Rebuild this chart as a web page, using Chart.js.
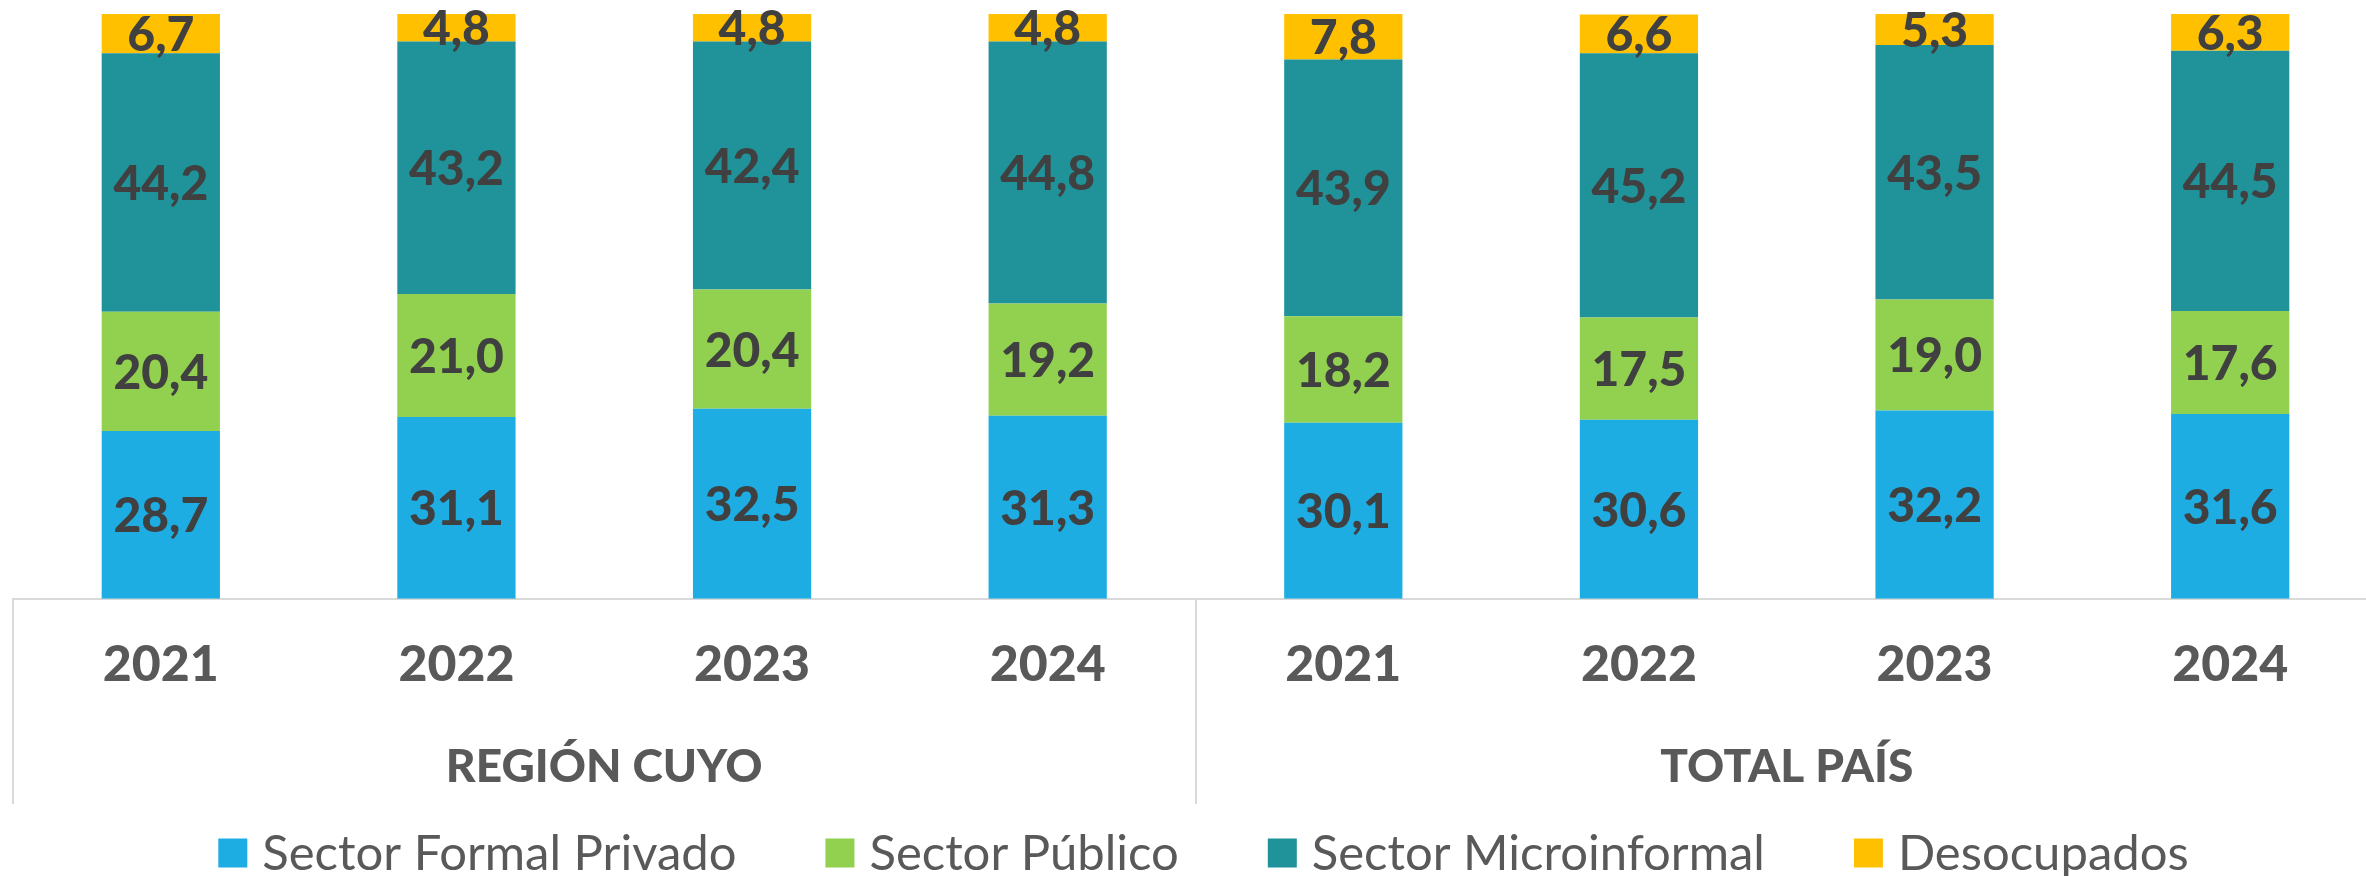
<!DOCTYPE html>
<html>
<head>
<meta charset="utf-8">
<script src="https://cdn.jsdelivr.net/npm/chart.js@4.4.1/dist/chart.umd.min.js"></script>
<style>
  html, body { margin: 0; padding: 0; background: #fff; overflow: hidden; }
  #wrap { width: 2378px; height: 876px; }
</style>
</head>
<body>
<div id="wrap"><canvas id="chart" width="2378" height="876"></canvas></div>
<script>
// --- datos ---
const years  = ['2021', '2022', '2023', '2024', '2021', '2022', '2023', '2024'];
const groups = ['REGIÓN CUYO', 'TOTAL PAÍS'];

const formalPrivado = [28.7, 31.1, 32.5, 31.3, 30.1, 30.6, 32.2, 31.6];
const sectorPublico = [20.4, 21.0, 20.4, 19.2, 18.2, 17.5, 19.0, 17.6];
const microinformal = [44.2, 43.2, 42.4, 44.8, 43.9, 45.2, 43.5, 44.5];
const desocupados   = [6.7, 4.8, 4.8, 4.8, 7.8, 6.6, 5.3, 6.3];

const seriesNames  = ['Sector Formal Privado', 'Sector Público', 'Sector Microinformal', 'Desocupados'];
const seriesColors = ['#1EADE3', '#92D050', '#20929A', '#FFC000'];

const FONT = 'Lato, "Noto Sans", sans-serif';

// etiquetas de valor dentro de cada segmento
const valueLabels = {
  id: 'valueLabels',
  afterDatasetsDraw(chart) {
    const ctx = chart.ctx;
    ctx.save();
    ctx.font = '900 48px ' + FONT;
    ctx.fillStyle = '#404040';
    ctx.textAlign = 'center';
    ctx.textBaseline = 'middle';
    chart.data.datasets.forEach((ds, i) => {
      chart.getDatasetMeta(i).data.forEach((bar, j) => {
        const y = (bar.y + bar.base) / 2;
        ctx.fillText(ds.data[j].toFixed(1).replace('.', ','), bar.x, y + 2);
      });
    });
    ctx.restore();
  }
};

// líneas verticales que separan los grupos
const groupLines = {
  id: 'groupLines',
  afterDraw(chart) {
    const x = chart.scales.x, x2 = chart.scales.x2;
    const ctx = chart.ctx;
    const step = x.getPixelForValue(1) - x.getPixelForValue(0);
    const perGroup = years.length / groups.length;
    ctx.save();
    ctx.strokeStyle = '#D9D9D9';
    ctx.lineWidth = 2;
    for (let g = 0; g <= groups.length; g++) {
      const px = Math.round(x.getPixelForValue(g * perGroup) - step / 2);
      ctx.beginPath();
      ctx.moveTo(px, chart.chartArea.bottom);
      ctx.lineTo(px, x2.bottom);
      ctx.stroke();
    }
    ctx.restore();
  }
};

// leyenda dibujada a mano (espaciado como el original)
const bottomLegend = {
  id: 'bottomLegend',
  afterDraw(chart) {
    const ctx = chart.ctx;
    const box = 29, gapText = 15, gapItem = 89;
    ctx.save();
    ctx.font = '49px ' + FONT;
    const widths = chart.data.datasets.map(ds => ctx.measureText(ds.label).width);
    const total = widths.reduce((a, w) => a + box + gapText + w, 0) + gapItem * (widths.length - 1);
    const ca = chart.chartArea;
    let cx = (ca.left + ca.right) / 2 - total / 2 + 8;
    const cy = chart.height - 23;
    ctx.textBaseline = 'middle';
    ctx.textAlign = 'left';
    chart.data.datasets.forEach((ds, i) => {
      ctx.fillStyle = ds.backgroundColor;
      ctx.fillRect(cx, cy - box / 2, box, box);
      ctx.fillStyle = '#595959';
      ctx.fillText(ds.label, cx + box + gapText, cy + 1);
      cx += box + gapText + widths[i] + gapItem;
    });
    ctx.restore();
  }
};

const ctx = document.getElementById('chart').getContext('2d');

const chart = new Chart(ctx, {
  type: 'bar',
  data: {
    labels: years,
    datasets: [
      { label: seriesNames[0], data: formalPrivado, backgroundColor: seriesColors[0] },
      { label: seriesNames[1], data: sectorPublico, backgroundColor: seriesColors[1] },
      { label: seriesNames[2], data: microinformal, backgroundColor: seriesColors[2] },
      { label: seriesNames[3], data: desocupados,   backgroundColor: seriesColors[3] }
    ]
  },
  options: {
    responsive: false,
    animation: false,
    layout: { padding: { left: 13, right: 0, top: 14, bottom: 72 } },
    datasets: {
      bar: { barPercentage: 0.4, categoryPercentage: 1.0, borderWidth: 0 }
    },
    plugins: {
      legend: { display: false },
      tooltip: { enabled: false }
    },
    scales: {
      x: {
        stacked: true,
        weight: 0,
        grid: { display: false, drawTicks: false },
        border: { display: true, color: '#D9D9D9', width: 2 },
        ticks: {
          color: '#595959',
          padding: 36,
          font: { family: FONT, size: 50, weight: '900' }
        }
      },
      x2: {
        type: 'category',
        labels: groups,
        position: 'bottom',
        offset: true,
        weight: 1,
        grid: { display: false, drawTicks: false },
        border: { display: false },
        ticks: {
          color: '#595959',
          padding: 9,
          font: { family: FONT, size: 46, weight: '900' }
        }
      },
      y: {
        stacked: true,
        display: false,
        min: 0,
        max: 100
      }
    }
  },
  plugins: [valueLabels, groupLines, bottomLegend]
});
</script>
</body>
</html>
